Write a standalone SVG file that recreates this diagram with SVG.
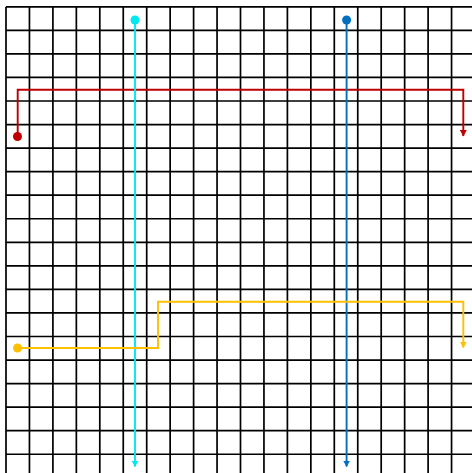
<svg xmlns="http://www.w3.org/2000/svg" width="472" height="473" viewBox="0 0 472 473">
<style>
.grid{stroke:#000;stroke-width:1.7;fill:none}
.conn{fill:none;stroke-width:1.9}
</style>
<defs>
<marker id="ar-red" markerWidth="7" markerHeight="7" refX="6" refY="3.5" orient="auto" markerUnits="userSpaceOnUse"><path d="M0,0 L6.5,3.5 L0,7 Z" fill="#C00000"/></marker>
<marker id="ar-cyan" markerWidth="7" markerHeight="7" refX="6" refY="3.5" orient="auto" markerUnits="userSpaceOnUse"><path d="M0,0 L6.5,3.5 L0,7 Z" fill="#00E8F0"/></marker>
<marker id="ar-blue" markerWidth="7" markerHeight="7" refX="6" refY="3.5" orient="auto" markerUnits="userSpaceOnUse"><path d="M0,0 L6.5,3.5 L0,7 Z" fill="#0070C0"/></marker>
<marker id="ar-orange" markerWidth="7" markerHeight="7" refX="6" refY="3.5" orient="auto" markerUnits="userSpaceOnUse"><path d="M0,0 L6.5,3.5 L0,7 Z" fill="#FFC000"/></marker>
</defs>
<rect width="472" height="473" fill="#fff"/>
<g id="grid" class="grid">
<path d="M6,6.8V473 M29.45,6.8V473 M52.9,6.8V473 M76.35,6.8V473 M99.8,6.8V473 M123.25,6.8V473 M146.7,6.8V473 M170.15,6.8V473 M193.6,6.8V473 M217.05,6.8V473 M240.5,6.8V473 M263.95,6.8V473 M287.4,6.8V473 M310.85,6.8V473 M334.3,6.8V473 M357.75,6.8V473 M381.2,6.8V473 M404.65,6.8V473 M428.1,6.8V473 M451.55,6.8V473"/>
<path d="M6,6.8H472 M6,30.35H472 M6,53.9H472 M6,77.45H472 M6,101H472 M6,124.55H472 M6,148.1H472 M6,171.65H472 M6,195.2H472 M6,218.75H472 M6,242.3H472 M6,265.85H472 M6,289.4H472 M6,312.95H472 M6,336.5H472 M6,360.05H472 M6,383.6H472 M6,407.15H472 M6,430.7H472 M6,454.25H472"/>
</g>
<g id="connectors">
<path class="conn" stroke="#C00000" d="M17.7,136.5 V89.7 H463.3 V136" marker-end="url(#ar-red)"/>
<path class="conn" stroke="#00E8F0" d="M135,20 V466.5" marker-end="url(#ar-cyan)"/>
<path class="conn" stroke="#0070C0" d="M346.6,20 V466.5" marker-end="url(#ar-blue)"/>
<path class="conn" stroke="#FFC000" d="M17.7,348 H158 V301.7 H463.3 V347.5" marker-end="url(#ar-orange)"/>
</g>
<g id="node-red-start"><circle cx="17.5" cy="136.5" r="4.5" fill="#C00000"/></g>
<g id="node-cyan-start"><circle cx="135" cy="20" r="4.5" fill="#00E8F0"/></g>
<g id="node-blue-start"><circle cx="346.6" cy="20" r="4.5" fill="#0070C0"/></g>
<g id="node-orange-start"><circle cx="17.5" cy="348" r="4.5" fill="#FFC000"/></g>
</svg>
